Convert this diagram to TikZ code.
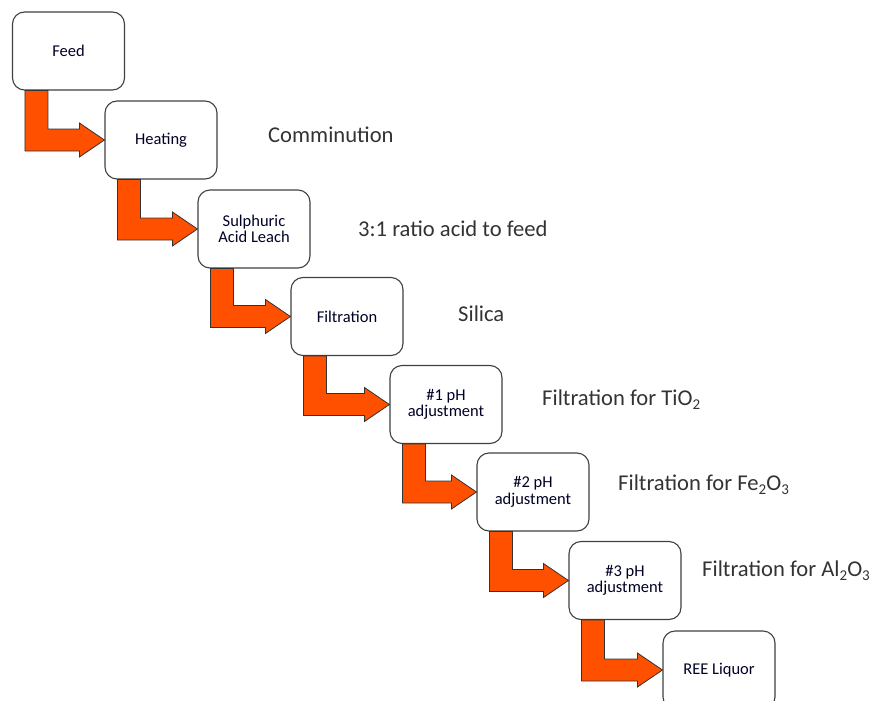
\documentclass[tikz,border=0pt]{standalone}
\usepackage{fontspec}
\setmainfont{Carlito}
\usetikzlibrary{calc}
\newcommand{\chemsub}[1]{\raisebox{-4pt}{\fontsize{15}{15}\selectfont #1}}

\begin{document}
\begin{tikzpicture}[x=1pt,y=1pt,
  procbox/.style={draw=black!75,line width=1.1pt,fill=white,rounded corners=12pt,minimum width=112pt,minimum height=78pt,align=center,inner sep=2pt,font=\fontsize{16.5}{16.5}\selectfont,text=black!85!blue},
  flowarrow/.style={fill=flameorange,draw=black!80,line width=0.8pt,line join=miter},
  note/.style={anchor=west,inner sep=0pt,font=\fontsize{22.6}{26}\selectfont,text=black!80}]
  \definecolor{flameorange}{RGB}{255,80,0}
  \clip (0,0) rectangle (875,-701);
  % process boxes, stepping down and right
  \node[procbox] (feed) at (68.5,-51) {Feed};
  \node[procbox] (heating) at (161,-140) {Heating};
  \node[procbox] (leach) at (254,-229) {Sulphuric\\Acid Leach};
  \node[procbox] (filt) at (347,-316.5) {Filtration};
  \node[procbox] (ph1) at (446,-404.5) {\#1 pH\\adjustment};
  \node[procbox] (ph2) at (533,-492) {\#2 pH\\adjustment};
  \node[procbox] (ph3) at (625,-580.5) {\#3 pH\\adjustment};
  \node[procbox] (ree) at (719,-670) {REE Liquor};
  % bent arrows
  \foreach \a/\b in {feed/heating,heating/leach,leach/filt,filt/ph1,ph1/ph2,ph2/ph3,ph3/ree}
    \draw[flowarrow] ($(\a.south west)+(13,0)$) -- ++(23,0) |- ($(\b.west)+(-25,11)$) -- ++(0,6)
      -- (\b.west) -- ++(-25,-17) -- ++(0,6) -| ($(\a.south west)+(13,0)$) -- cycle;
  % side notes
  \node[note] (ncomm) at (268,-135) {Comminution};
  \node[note] (nratio) at (358,-229) {3:1 ratio acid to feed};
  \node[note] (nsilica) at (458,-314) {Silica};
  \node[note] (nti) at (542,-400) {Filtration for TiO\chemsub{2}};
  \node[note] (nfe) at (618,-485) {Filtration for Fe\chemsub{2}O\chemsub{3}};
  \node[note] (nal) at (702,-571) {Filtration for Al\chemsub{2}O\chemsub{3}};
\end{tikzpicture}
\end{document}
